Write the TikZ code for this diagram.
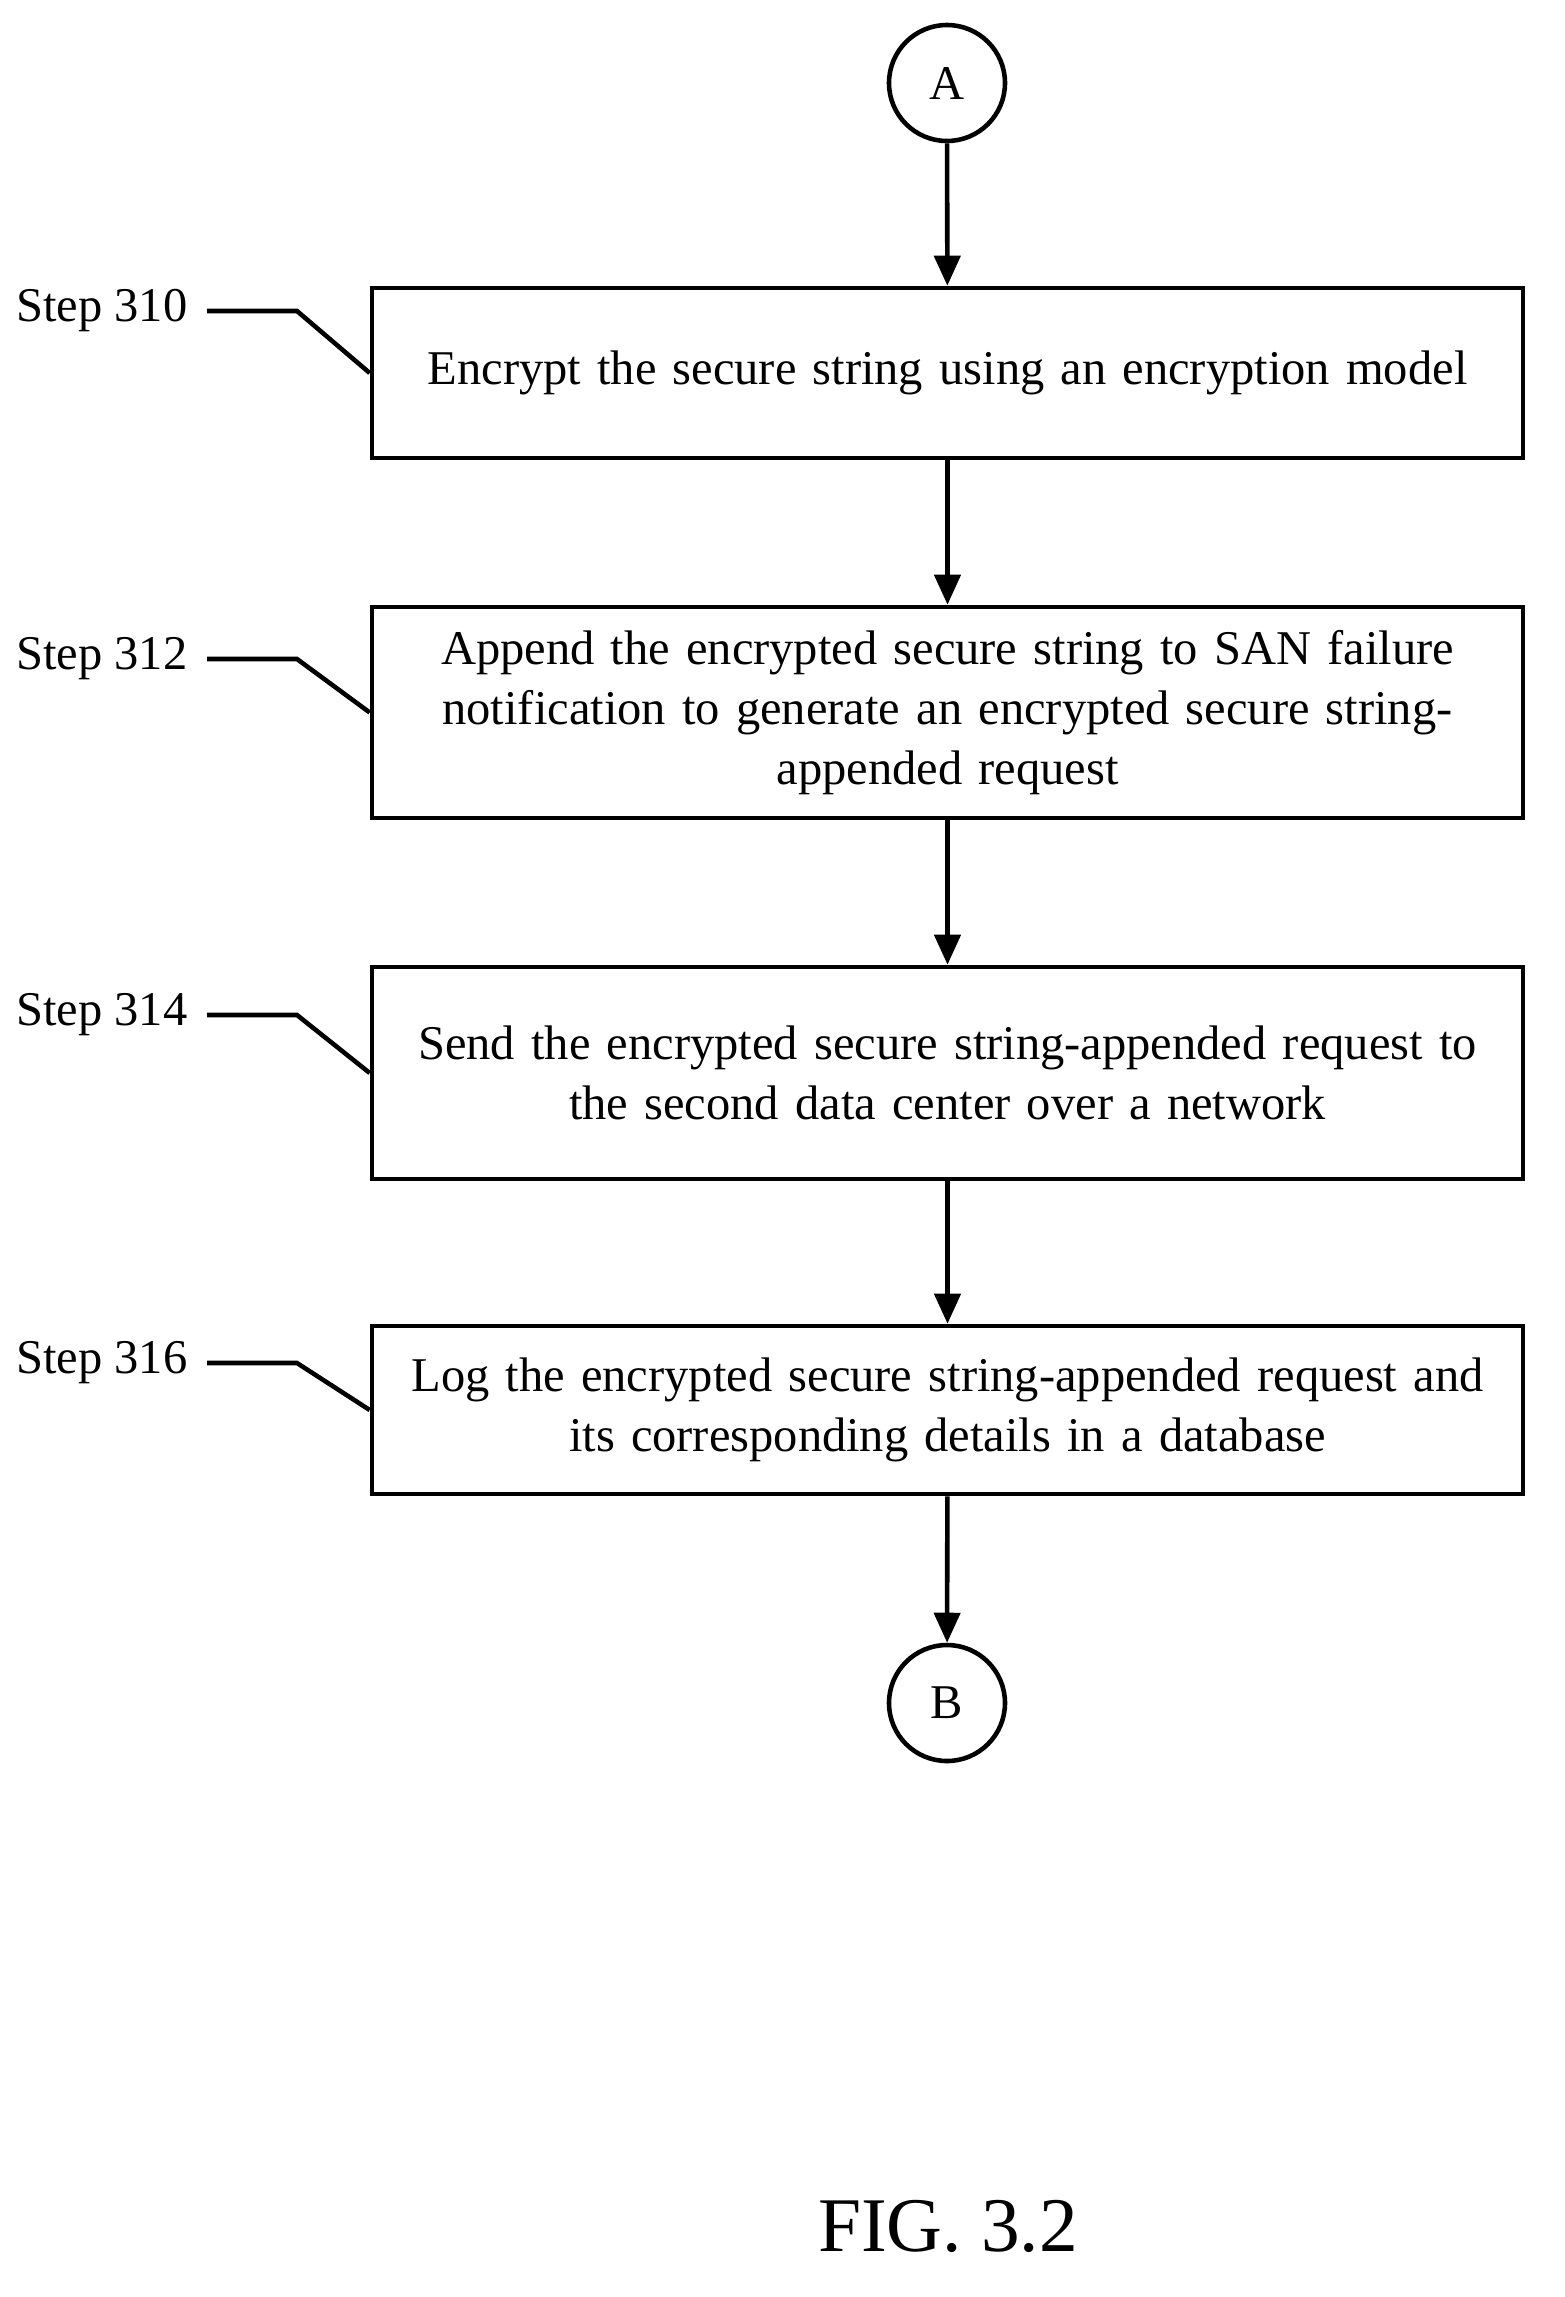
\documentclass[tikz,border=0pt]{standalone}
\usepackage{fontspec}
\setmainfont{Liberation Serif}
\usetikzlibrary{positioning,arrows.meta}

\tikzset{
  stepbox/.style={draw, line width=1.3pt, minimum width=11.51cm, text width=11.2cm, align=center, font=\fontsize{13.8}{17}\selectfont},
  conn/.style={draw, circle, line width=1.3pt, minimum size=1.16cm, inner sep=0pt, font=\fontsize{13.8}{17}\selectfont},
  flow/.style={line width=1.3pt, -{Triangle[length=0.3cm, width=0.26cm]}},
  lead/.style={line width=1.3pt},
  lbl/.style={anchor=east, inner sep=0pt, font=\fontsize{13.8}{17}\selectfont}
}

\begin{document}
\begin{tikzpicture}
  \useasboundingbox (0,0) rectangle (15.64,-22.97);

  \node[conn] (a) at (9.47,-0.83) {A};
  \node[stepbox, minimum height=1.70cm] (s310) at (9.475,-3.73) {Encrypt the secure string using an encryption model};
  \node[stepbox, minimum height=2.11cm] (s312) at (9.475,-7.125) {Append the encrypted secure string to SAN failure\\ notification to generate an encrypted secure string-\\ appended request};
  \node[stepbox, minimum height=2.12cm] (s314) at (9.475,-10.73) {Send the encrypted secure string-appended request to\\ the second data center over a network};
  \node[stepbox, minimum height=1.68cm] (s316) at (9.475,-14.10) {Log the encrypted secure string-appended request and\\ its corresponding details in a database};
  \node[conn] (b) at (9.47,-17.03) {B};

  \draw[flow] (a) -- (s310);
  \draw[flow] (s310) -- (s312);
  \draw[flow] (s312) -- (s314);
  \draw[flow] (s314) -- (s316);
  \draw[flow] (s316) -- (b);

  % step labels with leader lines
  \node[lbl] (l310) at (1.88,-3.11) {Step 310};
  \node[lbl] (l312) at (1.88,-6.59) {Step 312};
  \node[lbl] (l314) at (1.88,-10.15) {Step 314};
  \node[lbl] (l316) at (1.88,-13.63) {Step 316};
  \draw[lead] (2.07,-3.11) -- (2.97,-3.11) -- (s310.west);
  \draw[lead] (2.07,-6.59) -- (2.97,-6.59) -- (s312.west);
  \draw[lead] (2.07,-10.15) -- (2.97,-10.15) -- (s314.west);
  \draw[lead] (2.07,-13.63) -- (2.97,-13.63) -- (s316.west);

  \node[font=\fontsize{22}{26}\selectfont] (fig) at (9.48,-22.26) {FIG. 3.2};
\end{tikzpicture}
\end{document}
